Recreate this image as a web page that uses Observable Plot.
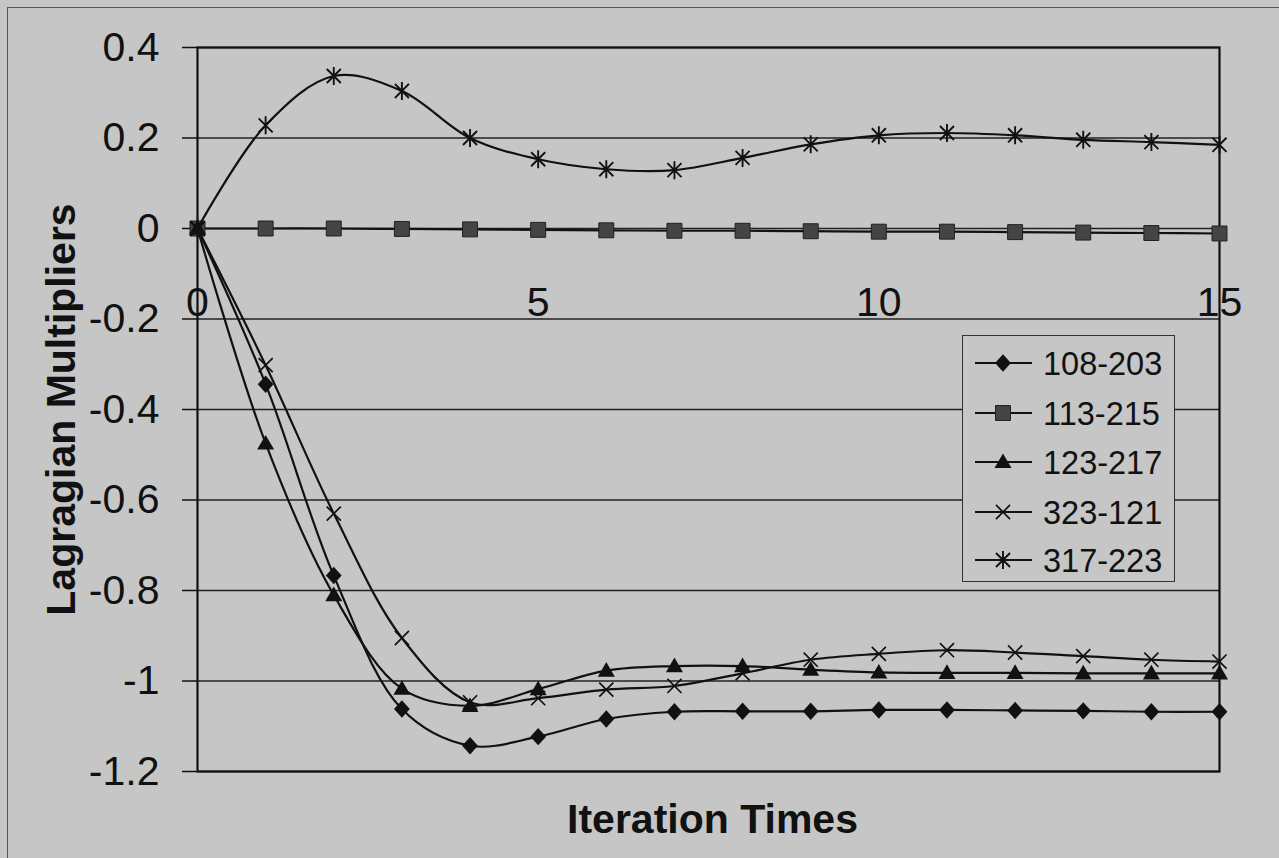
<!DOCTYPE html>
<html>
<head>
<meta charset="utf-8">
<script src="https://cdn.jsdelivr.net/npm/d3@7"></script>
<script src="https://cdn.jsdelivr.net/npm/@observablehq/plot@0.6"></script>
<style>
  html, body { margin: 0; padding: 0; background: #c6c6c6; }
  #wrap { position: relative; width: 1279px; height: 858px; overflow: hidden; background: #c6c6c6; }
  #outer { position: absolute; left: 7px; top: 7px; right: -10px; bottom: -10px; border-top: 1.5px solid #555; border-left: 1.5px solid #555; }
  #chart { position: absolute; left: 0; top: 0; }
  #legend { position: absolute; left: 962px; top: 335px; width: 213px; height: 247px; border: 1.5px solid #333; background: #c6c6c6; box-sizing: border-box; }
</style>
</head>
<body>
<div id="wrap">
  <div id="outer"></div>
  <div id="chart"></div>
  <div id="legend"></div>
</div>
<script>
// ---- data ----
const iterations = [0, 1, 2, 3, 4, 5, 6, 7, 8, 9, 10, 11, 12, 13, 14, 15];
const xTicks = [0, 5, 10, 15];
const yTicks = [0.4, 0.2, 0, -0.2, -0.4, -0.6, -0.8, -1, -1.2];
const seriesNames = ["108-203", "113-215", "123-217", "323-121", "317-223"];
const s108_203 = [0, -0.344, -0.767, -1.062, -1.143, -1.123, -1.084, -1.068, -1.067, -1.067, -1.064, -1.064, -1.065, -1.066, -1.068, -1.068];
const s113_215 = [0, 0, 0, -0.001, -0.002, -0.003, -0.004, -0.005, -0.005, -0.006, -0.007, -0.007, -0.008, -0.009, -0.010, -0.011];
const s123_217 = [0, -0.475, -0.810, -1.017, -1.055, -1.018, -0.977, -0.967, -0.967, -0.975, -0.981, -0.982, -0.982, -0.983, -0.983, -0.983];
const s323_121 = [0, -0.302, -0.630, -0.905, -1.047, -1.038, -1.019, -1.011, -0.983, -0.953, -0.940, -0.932, -0.937, -0.945, -0.953, -0.957];
const s317_223 = [0, 0.228, 0.337, 0.304, 0.200, 0.153, 0.131, 0.129, 0.156, 0.186, 0.206, 0.211, 0.206, 0.196, 0.191, 0.185];
const seriesValues = [s108_203, s113_215, s123_217, s323_121, s317_223];

// ---- custom Excel-like markers ----
const rad = (size) => Math.sqrt(size / Math.PI);
const symDiamond = { draw(c, size) { const r = rad(size); c.moveTo(0, -r * 1.05); c.lineTo(r * 0.95, 0); c.lineTo(0, r * 1.05); c.lineTo(-r * 0.95, 0); c.closePath(); } };
const symSquare = { draw(c, size) { const r = rad(size) * 0.85; c.moveTo(-r, -r); c.lineTo(r, -r); c.lineTo(r, r); c.lineTo(-r, r); c.closePath(); } };
const symTriangle = { draw(c, size) { const r = rad(size); c.moveTo(0, -r); c.lineTo(r, r * 0.72); c.lineTo(-r, r * 0.72); c.closePath(); } };
const symTimes = { draw(c, size) { const r = rad(size) * 0.8; c.moveTo(-r, -r); c.lineTo(r, r); c.moveTo(-r, r); c.lineTo(r, -r); } };
const symStar = { draw(c, size) { const r = rad(size); const a = r * 0.78; c.moveTo(0, -r); c.lineTo(0, r); c.moveTo(-a, -a); c.lineTo(a, a); c.moveTo(-a, a); c.lineTo(a, -a); } };

const styles = [
  { symbol: symDiamond, fill: "#111", stroke: "none", r: 8.3 },
  { symbol: symSquare, fill: "#444", stroke: "#222", r: 8.8 },
  { symbol: symTriangle, fill: "#111", stroke: "none", r: 8.5 },
  { symbol: symTimes, fill: "none", stroke: "#111", r: 8.8, strokeWidth: 1.7 },
  { symbol: symStar, fill: "none", stroke: "#111", r: 9, strokeWidth: 1.9 }
];

const rows = seriesNames.flatMap((name, i) => iterations.map((x, j) => ({ series: name, x, y: seriesValues[i][j] })));

const seriesMarks = seriesNames.flatMap((name, i) => {
  const d = rows.filter(r => r.series === name);
  const st = styles[i];
  return [
    Plot.line(d, { x: "x", y: "y", curve: "catmull-rom", stroke: "#111", strokeWidth: 2.2 }),
    Plot.dot(d, { x: "x", y: "y", symbol: st.symbol, r: st.r, fill: st.fill, stroke: st.stroke, strokeWidth: st.strokeWidth || 1 })
  ];
});

const chart = Plot.plot({
  width: 1279,
  height: 858,
  marginLeft: 197,
  marginRight: 60,
  marginTop: 47,
  marginBottom: 87,
  style: { fontFamily: "'Liberation Sans', Arial, sans-serif", background: "transparent", color: "#111", overflow: "visible" },
  x: { domain: [0, 15], axis: null },
  y: { domain: [-1.2, 0.4] },
  marks: [
    Plot.ruleY(yTicks, { stroke: "#222", strokeWidth: 1.3 }),
    Plot.ruleX(xTicks, { x: d => d, y1: 0, y2: -0.013, stroke: "#222", strokeWidth: 1.3 }),
    Plot.axisY({ ticks: yTicks, tickSize: 15, tickPadding: 23, fontSize: 41, tickFormat: d => String(d), label: null, strokeWidth: 1.5 }),
    Plot.text(xTicks, { x: d => d, y: () => 0, dy: 74, text: d => String(d), fontSize: 41, lineAnchor: "middle", textAnchor: "middle" }),
    Plot.frame({ stroke: "#111", strokeWidth: 2.2 }),
    ...seriesMarks,
    Plot.text(["Lagragian Multipliers"], { frameAnchor: "left", dx: -136, rotate: -90, fontSize: 41, fontWeight: "bold", textAnchor: "middle", lineAnchor: "middle" }),
    Plot.text(["Iteration Times"], { frameAnchor: "bottom", dx: 4, dy: 48, fontSize: 41, fontWeight: "bold", textAnchor: "middle", lineAnchor: "middle" })
  ]
});
document.getElementById("chart").appendChild(chart);

// ---- legend ----
const lg = d3.select("#legend").append("svg").attr("width", 213).attr("height", 247).style("position", "absolute").style("left", "-1.5px").style("top", "-1.5px");
const rowY = [28, 78, 127, 177, 225];
seriesNames.forEach((name, i) => {
  const st = styles[i];
  const g = lg.append("g").attr("transform", `translate(0,${rowY[i]})`);
  g.append("line").attr("x1", 13).attr("x2", 70).attr("y1", 0).attr("y2", 0).attr("stroke", "#111").attr("stroke-width", 2);
  g.append("path").attr("transform", "translate(41,0)")
    .attr("d", d3.symbol().type(st.symbol).size(Math.PI * st.r * st.r)())
    .attr("fill", st.fill).attr("stroke", st.stroke).attr("stroke-width", st.strokeWidth || 1);
  g.append("text").attr("x", 81).attr("y", 0).attr("dy", "0.36em")
    .attr("font-family", "'Liberation Sans', Arial, sans-serif").attr("font-size", 32.5).attr("fill", "#111").text(name);
});
</script>
</body>
</html>
